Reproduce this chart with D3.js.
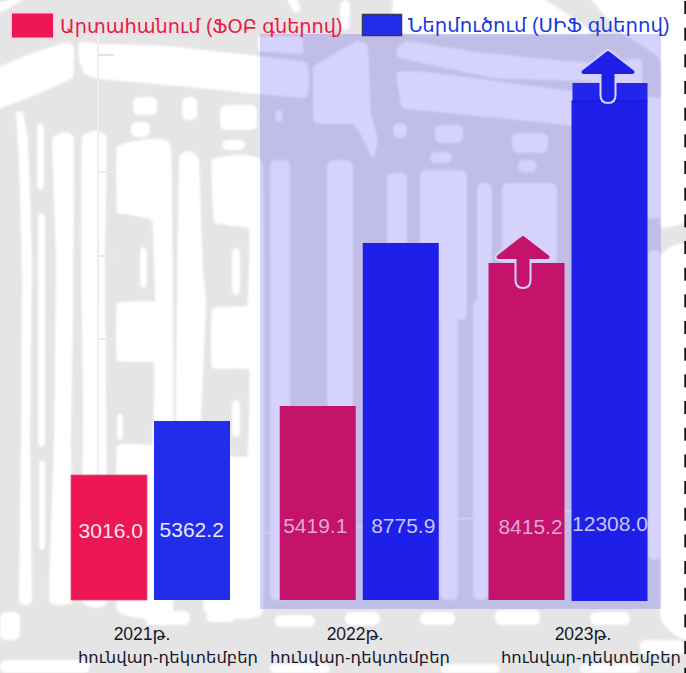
<!DOCTYPE html>
<html lang="hy">
<head>
<meta charset="utf-8">
<script src="https://cdn.jsdelivr.net/npm/d3@7/dist/d3.min.js"></script>
<style>
html,body{margin:0;padding:0;background:#fff;overflow:hidden}
svg{display:block}
text{font-family:"Liberation Sans","DejaVu Sans",sans-serif}
</style>
</head>
<body>
<svg id="chart" width="686" height="673"></svg>
<script>
// ---- data ----
const periods = ["2021", "2022", "2023"];
const periodLabels = ["2021թ.", "2022թ.", "2023թ."];
const periodSpan = "հունվար-դեկտեմբեր";
const seriesNames = ["Արտահանում (ՖՕԲ գներով)", "Ներմուծում (ՍԻՖ գներով)"];
const exportValues = [3016.0, 5419.1, 8415.2];
const importValues = [5362.2, 8775.9, 12308.0];
// the bars are not drawn to a common scale: these are their apparent heights in axis units
const exportDrawn = [3083, 4785, 8313];
const importDrawn = [4415, 8806, 12308];
const importCap2023 = 12752;

// ---- decoration: watermark behind the chart ----
const backdropPolys = [
 [[-8,72],[30,55],[67,43],[73,47],[72,77],[40,92],[-8,110]],
 [[80,43],[100,45],[167,47],[305,63],[305,97],[200,87],[100,78],[85,73],[80,60]],
 [[315,67],[357,42],[367,47],[370,113],[377,140],[373,158],[363,137],[353,123],[315,122]],
 [[397,50],[407,42],[477,53],[590,64],[640,60],[640,85],[580,80],[493,77],[400,57]],
 [[397,73],[427,73],[580,93],[660,100],[660,215],[640,215],[600,130],[527,120],[427,110],[403,107]],
 [[118,147],[170,147],[172,610],[118,610],[118,447],[153,445],[155,362],[118,360],[118,304],[153,302],[156,300],[153,220],[125,213],[118,212]],
 [[213,160],[262,165],[262,610],[205,610],[203,459],[248,457],[250,369],[213,367],[213,309],[248,306],[250,228],[215,222]],
 [[17,113],[22,113],[27,140],[31,260],[29,440],[31,600],[20,600],[22,440],[23,280],[20,160]],
 [[53,140],[65,133],[73,140],[72,320],[70,440],[72,600],[50,600],[55,440],[57,260]],
 [[83,138],[95,132],[106,138],[104,260],[106,600],[83,600],[84,400],[82,260]],
 [[180,158],[190,152],[198,160],[202,270],[205,300],[199,435],[177,430],[178,300]],
 [[-5,5],[30,-5],[-5,14]],
 [[287,-3],[295,-3],[300,10],[295,12]],
 [[397,-5],[533,-5],[590,33],[397,33]],
 [[590,-5],[690,-5],[690,215],[661,225],[661,60],[623,33]],
 [[661,260],[690,250],[690,635],[661,615]],
 [[260,37],[300,37],[302,53],[260,50]]
];
const backdropRects = [
 [37,123,44,190],[38,213,45,447],[39,460,45,550],[133,97,157,115],[182,97,197,120],[220,105,257,130],[131,122,150,137],[222,140,245,150],
 [140,247,147,288],[232,248,240,295],[232,400,240,437],[117,413,123,440],[340,0,350,30],
 [270,160,290,600],[327,160,353,420],[387,173,407,260],[420,170,467,320],[477,183,492,320],[502,183,557,290],
 [393,123,407,138],[435,125,463,143],[430,152,452,163],[512,133,548,153],[518,160,537,172],[275,110,283,122],
 [440,300,458,600],[473,300,488,600],[648,250,661,560],
 [145,611,190,625],[206,612,235,622],[275,615,315,627],[345,612,380,625],[420,612,455,625],[495,610,540,625],[590,612,630,625],
 [0,612,20,640],[640,640,684,655],[0,660,90,673],[270,664,330,673],[440,664,500,673],[580,664,640,673]
];
const axisTicks = [55, 172, 256, 339];

// ---- layout ----
const svg = d3.select("#chart");
const colors = {
  exportPlain:"#ec1654", exportPanel:"#c5126a",
  importPlain:"#222ceb", importPanel:"#1e20ea", importCap:"#2326ea"
};

svg.append("defs").append("filter").attr("id","soft").attr("x","-5%").attr("y","-5%").attr("width","110%").attr("height","110%")
  .append("feGaussianBlur").attr("stdDeviation",1);

// watermark
svg.append("rect").attr("width",686).attr("height",673).attr("fill","#e5e5e5");
const mark = svg.append("g").attr("filter","url(#soft)");
const outline = d3.line().curve(d3.curveCardinalClosed.tension(0.8));
mark.append("g").selectAll("path").data(backdropPolys).join("path")
  .attr("d",d=>outline(d)).attr("fill","#fff").attr("stroke","#fff")
  .attr("stroke-width",2).attr("stroke-linejoin","round");
mark.append("g").selectAll("rect").data(backdropRects).join("rect")
  .attr("x",d=>d[0]).attr("y",d=>d[1]).attr("width",d=>d[2]-d[0]).attr("height",d=>d[3]-d[1])
  .attr("rx",6).attr("fill","#fff");

// faint remains of an axis
svg.append("line").attr("x1",98).attr("x2",98).attr("y1",30).attr("y2",600)
  .attr("stroke","#eceef5").attr("stroke-width",2);
svg.append("g").selectAll("line").data(axisTicks).join("line")
  .attr("x1",98).attr("x2",114).attr("y1",d=>d).attr("y2",d=>d)
  .attr("stroke",(d,i)=>i?"#e8eaf3":"#dde5f0").attr("stroke-width",2);
svg.append("line").attr("x1",146).attr("y1",541.5).attr("x2",686).attr("y2",503)
  .attr("stroke","#fff").attr("stroke-opacity",.6).attr("stroke-width",2);

// highlight panel
svg.append("rect").attr("x",260).attr("y",34).attr("width",401).attr("height",575)
  .attr("fill","rgb(34,18,234)").attr("fill-opacity",.19);

// scales
const x0 = d3.scalePoint().domain(periods).range([150.5,568]);
const x1 = d3.scaleBand().domain(["export","import"]).range([-79.5,79.5]).paddingInner(7/83);
const y = d3.scaleLinear().domain([0,12308]).range([600,101]);

const rows = periods.map((p,i)=>({p,i,exp:exportValues[i],imp:importValues[i],expH:exportDrawn[i],impH:importDrawn[i]}));
const groups = svg.append("g").selectAll("g").data(rows).join("g")
  .attr("transform",d=>`translate(${x0(d.p)},0)`);

groups.append("rect").attr("x",x1("export")).attr("width",x1.bandwidth())
  .attr("y",d=>y(d.expH)).attr("height",d=>y(0)-y(d.expH))
  .attr("fill",d=>d.i?colors.exportPanel:colors.exportPlain);
groups.filter(d=>d.i===0).select("rect").attr("stroke","#f04f7f").attr("stroke-width",.8);
groups.append("rect").attr("x",x1("import")).attr("width",x1.bandwidth())
  .attr("y",d=>y(d.impH)).attr("height",d=>y(0)-y(d.impH)+(d.i===2?1:0))
  .attr("fill",d=>d.i?colors.importPanel:colors.importPlain);

// the lighter cap on the 2023 import bar
const g23 = groups.filter(d=>d.i===2);
g23.append("rect").attr("x",x1("import")+1).attr("width",x1.bandwidth()-1)
  .attr("y",y(importCap2023)).attr("height",y(12308)-y(importCap2023)).attr("fill",colors.importCap);
g23.append("line").attr("x1",x1("import")).attr("x2",x1("import")+x1.bandwidth())
  .attr("y1",y(12308)).attr("y2",y(12308)).attr("stroke","#1010f0").attr("stroke-width",1);

// up arrows
function arrowPath(cx, tip){
  const p = d3.path();
  p.moveTo(cx,tip+3);
  p.lineTo(cx+24.5,tip+22);
  p.lineTo(cx+4.5,tip+22);
  p.lineTo(cx+4.5,tip+45);
  p.quadraticCurveTo(cx+4.5,tip+50,cx,tip+50);
  p.quadraticCurveTo(cx-4.5,tip+50,cx-4.5,tip+45);
  p.lineTo(cx-4.5,tip+22);
  p.lineTo(cx-24.5,tip+22);
  p.closePath();
  return p.toString();
}
const arrows = [
  {cx:x0("2023")+x1("export")+x1.bandwidth()/2-3.5, tip:y(exportDrawn[2])-28, fill:colors.exportPanel},
  {cx:x0("2023")+x1("import")+x1.bandwidth()/2-1.5, tip:y(importCap2023)-33, fill:colors.importPanel}
];
arrows.forEach(a=>{
  svg.append("path").attr("d",arrowPath(a.cx,a.tip)).attr("fill","#d5d2fb").attr("stroke","#d5d2fb")
    .attr("stroke-width",8).attr("stroke-linejoin","round");
  svg.append("path").attr("d",arrowPath(a.cx,a.tip)).attr("fill",a.fill).attr("stroke",a.fill)
    .attr("stroke-width",4).attr("stroke-linejoin","round");
});

// value labels
const fmt = d3.format(".1f");
const nudges = {exp:[[1.7,538],[-2.5,533],[4,534]], imp:[[-0.3,536.5],[2.5,533],[0.5,530.5]]};
const labelFill = {exp:["#fbe4ee","#dfa9d6","#e0a9d8"], imp:["#e6e8ff","#c6c4f6","#c6c4f6"]};
[["exp","export"],["imp","import"]].forEach(([k,name])=>{
  groups.append("text").attr("text-anchor","middle")
    .attr("x",d=>x1(name)+x1.bandwidth()/2+nudges[k][d.i][0])
    .attr("y",d=>nudges[k][d.i][1])
    .attr("font-size",21).attr("fill",d=>labelFill[k][d.i])
    .text(d=>fmt(d[k]));
});

// category labels
const tickLayout = [[142,168],[355,360],[583,591]];
const tickG = svg.append("g").attr("fill","#15172a").attr("text-anchor","middle");
tickG.selectAll("text.l1").data(periodLabels).join("text").attr("class","l1")
  .attr("font-size",17.5)
  .attr("x",(d,i)=>tickLayout[i][0]).attr("y",640).text(d=>d);
tickG.selectAll("text.l2").data(periods).join("text").attr("class","l2")
  .attr("font-size",16.4)
  .attr("x",(d,i)=>tickLayout[i][1]).attr("y",663).text(periodSpan);

// legend
svg.append("rect").attr("x",11).attr("y",12.5).attr("width",43).attr("height",26)
  .attr("fill",colors.exportPlain).attr("stroke","#f7d5e0").attr("stroke-width",2);
svg.append("rect").attr("x",362.5).attr("y",14.5).attr("width",39).attr("height",21)
  .attr("fill",colors.importPlain).attr("stroke","#333a5c").attr("stroke-width",1.5);
svg.append("text").attr("x",60).attr("y",33).attr("font-size",19.3).attr("fill","#ee1744").text(seriesNames[0]);
svg.append("text").attr("x",408).attr("y",32).attr("font-size",19.7).attr("fill","#1a3ae0").text(seriesNames[1]);

// dashes along the right edge
const edgeDashes = d3.range(0,26);
svg.append("g").selectAll("rect").data(edgeDashes).join("rect")
  .attr("x",684.3).attr("width",2).attr("y",d=>d*26.67+1).attr("height",13).attr("fill","#111");
</script>
</body>
</html>
